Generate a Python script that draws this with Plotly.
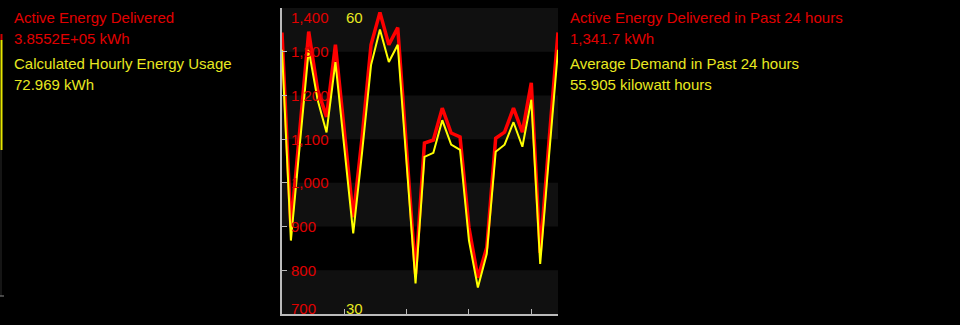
import plotly.graph_objects as go

# ---- data ----
hours = list(range(32))
energy_kwh = [1344, 898, 1121, 1346, 1213, 1151, 1316, 1121, 921, 1105, 1316, 1390,
              1316, 1355, 1075, 792, 1091, 1098, 1171, 1114, 1105, 898, 783, 852,
              1102, 1116, 1171, 1116, 1229, 840, 1098, 1344]
demand_kw = [55.9, 37.2, 46.6, 55.9, 51.0, 47.8, 54.7, 46.4, 37.9, 45.9, 54.4, 57.9,
             54.7, 56.4, 44.6, 33.0, 45.4, 45.8, 49.0, 46.6, 46.1, 37.2, 32.6, 35.9,
             45.9, 46.6, 48.8, 46.4, 51.0, 34.9, 45.6, 55.9]
y_ticks = [700, 800, 900, 1000, 1100, 1200, 1300, 1400]
y2_ticks = [30, 60]
x_ticks = [7, 14, 21, 28]

left_texts = [("Active Energy Delivered", "red"), ("3.8552E+05 kWh", "red"),
              ("Calculated Hourly Energy Usage", "yel"), ("72.969 kWh", "yel")]
right_texts = [("Active Energy Delivered in Past 24 hours", "red"), ("1,341.7 kWh", "red"),
               ("Average Demand in Past 24 hours", "yel"), ("55.905 kilowatt hours", "yel")]

RED_TXT = "#e00000"
YEL_TXT = "#e8e820"
FONT = "Liberation Sans, Arial, sans-serif"
FS = 15
W, H = 960, 325
ML, MR, MT, MB = 282, 402, 8, 11
pw = W - ML - MR
ph = H - MT - MB


def px_x(px):
    return (px - ML) / pw


def px_y(py):
    return 1 - (py - MT) / ph


fig = go.Figure()
fig.add_trace(go.Scatter(x=hours, y=energy_kwh, mode="lines",
                         line=dict(color="#ff0000", width=3.5), hoverinfo="skip"))
fig.add_trace(go.Scatter(x=hours, y=demand_kw, mode="lines", yaxis="y2",
                         line=dict(color="#ffff00", width=2), hoverinfo="skip"))

shapes = []
# alternating bands
for lo in y_ticks[:-1]:
    if (lo // 100) % 2 == 1:  # 1300-1400, 1100-1200, 900-1000, 700-800
        shapes.append(dict(type="rect", xref="paper", x0=0, x1=1, yref="y",
                           y0=lo, y1=lo + 100, fillcolor="#101010",
                           line=dict(width=0), layer="below"))

# partial neighbouring chart edge on the far left
shapes.append(dict(type="line", xref="paper", yref="paper", x0=px_x(1), x1=px_x(1),
                   y0=px_y(150), y1=px_y(296), line=dict(color="#2a2a2a", width=1)))
shapes.append(dict(type="line", xref="paper", yref="paper", x0=px_x(1.5), x1=px_x(1.5),
                   y0=px_y(40), y1=px_y(150), line=dict(color="#e6e600", width=2)))
shapes.append(dict(type="line", xref="paper", yref="paper", x0=px_x(1.5), x1=px_x(1.5),
                   y0=px_y(34), y1=px_y(40), line=dict(color="#cc0000", width=2)))
shapes.append(dict(type="line", xref="paper", yref="paper", x0=px_x(0), x1=px_x(4),
                   y0=px_y(296), y1=px_y(296), line=dict(color="#888888", width=1)))

annotations = []
for v in y_ticks:
    ys = -9 if v == 1400 else (6 if v == 700 else 0)
    annotations.append(dict(text=f"{v:,}", xref="paper", x=0, xshift=7, xanchor="left",
                            yref="y", y=v, yanchor="middle", yshift=ys, showarrow=False,
                            font=dict(family=FONT, size=FS, color=RED_TXT)))
for v in y2_ticks:
    ys = -9 if v == 60 else 6
    annotations.append(dict(text=str(v), xref="x", x=x_ticks[0], xshift=0, xanchor="left",
                            yref="y2", y=v, yanchor="middle", yshift=ys, showarrow=False,
                            font=dict(family=FONT, size=FS, color=YEL_TXT)))

line_ys = [17, 38, 63, 84]
for (t, c), yy in zip(left_texts, line_ys):
    annotations.append(dict(text=t, xref="paper", x=px_x(12), xanchor="left",
                            yref="paper", y=px_y(yy), yanchor="middle", showarrow=False,
                            font=dict(family=FONT, size=FS,
                                      color=RED_TXT if c == "red" else YEL_TXT)))
for (t, c), yy in zip(right_texts, line_ys):
    annotations.append(dict(text=t, xref="paper", x=px_x(568), xanchor="left",
                            yref="paper", y=px_y(yy), yanchor="middle", showarrow=False,
                            font=dict(family=FONT, size=FS,
                                      color=RED_TXT if c == "red" else YEL_TXT)))

fig.update_layout(
    width=W, height=H,
    margin=dict(l=ML, r=MR, t=MT, b=MB, pad=0),
    paper_bgcolor="#000000", plot_bgcolor="#000000",
    showlegend=False,
    xaxis=dict(range=[0, 31], tickvals=x_ticks, ticks="inside", ticklen=5,
               tickcolor="#bbbbbb", showticklabels=False, showgrid=False, zeroline=False,
               showline=True, linecolor="#bbbbbb", linewidth=2),
    yaxis=dict(range=[700, 1400], tickvals=y_ticks, ticks="inside", ticklen=5,
               tickcolor="#bbbbbb", showticklabels=False, showgrid=False, zeroline=False,
               showline=True, linecolor="#bbbbbb", linewidth=2),
    yaxis2=dict(range=[30, 60], overlaying="y", side="left", showticklabels=False,
                showgrid=False, zeroline=False, showline=False, ticks=""),
    shapes=shapes, annotations=annotations,
)

fig.write_html("out.html",
               config={"displayModeBar": False},
               post_script="document.body.style.margin='0';"
                           "document.body.style.background='#000';")
